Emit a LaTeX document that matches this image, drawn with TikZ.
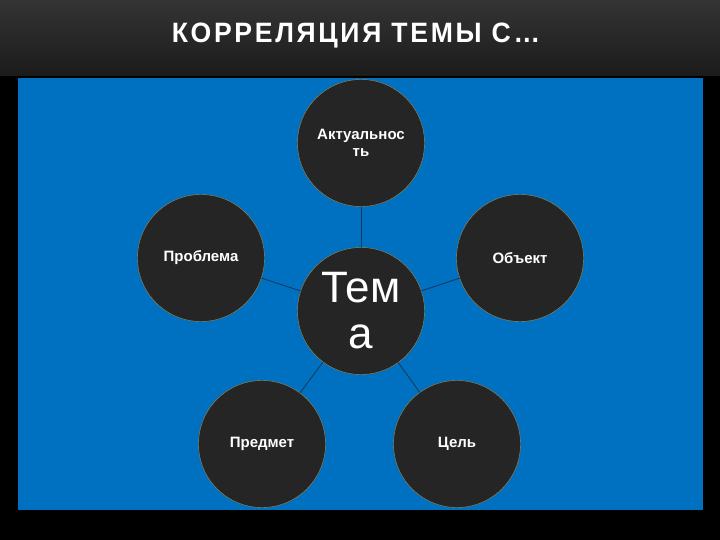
\documentclass[tikz,border=0pt]{standalone}
\usepackage{fontspec}
\setmainfont{Liberation Sans}
\newfontfamily\titrefont[LetterSpace=10]{Liberation Sans}
\usetikzlibrary{positioning}
\definecolor{fondbleu}{HTML}{0070C0}
\definecolor{gris}{HTML}{252525}
\definecolor{bordure}{HTML}{9C8A4E}
\definecolor{trait}{HTML}{17375E}
\definecolor{hautfond}{HTML}{343434}
\definecolor{basfond}{HTML}{1B1B1B}
\tikzset{
  noeud/.style = {circle, draw=bordure, fill=gris, minimum size=127pt,
    inner sep=0pt, align=center, text=white,
    font=\bfseries\fontsize{15}{17}\selectfont},% cercle exterieur
  centre/.style = {noeud, font=\fontsize{44}{46}\selectfont},% cercle du milieu
  lien/.style = {draw=trait, line width=0.8pt}
}
\begin{document}
\begin{tikzpicture}[x=1pt,y=-1pt]
\useasboundingbox (0,0) rectangle (720,540);
\fill[black] (0,0) rectangle (720,540);
\shade[top color=hautfond, bottom color=basfond] (0,0) rectangle (720,76);
\fill[fondbleu] (18,78) rectangle (703,510);
\node[text=white, font=\titrefont\bfseries\fontsize{28}{30}\selectfont] (titre) at (356,36)
  {\scalebox{0.95}[1]{КОРРЕЛЯЦИЯ ТЕМЫ С…}};
% les cercles
\node[centre] (tema) at (361,311) {Тем\\а};
\node[noeud] (actu) at (361,143) {Актуальнос\\ть};
\node[noeud] (probleme) at (201,258) {Проблема};
\node[noeud] (objet) at (520,258) {Объект};
\node[noeud] (sujet) at (262,444) {Предмет};
\node[noeud] (but) at (457,444) {Цель};
% les liens
\draw[lien] (tema) -- (actu);
\draw[lien] (tema) -- (probleme);
\draw[lien] (tema) -- (objet);
\draw[lien] (tema) -- (sujet);
\draw[lien] (tema) -- (but);
\end{tikzpicture}
\end{document}
